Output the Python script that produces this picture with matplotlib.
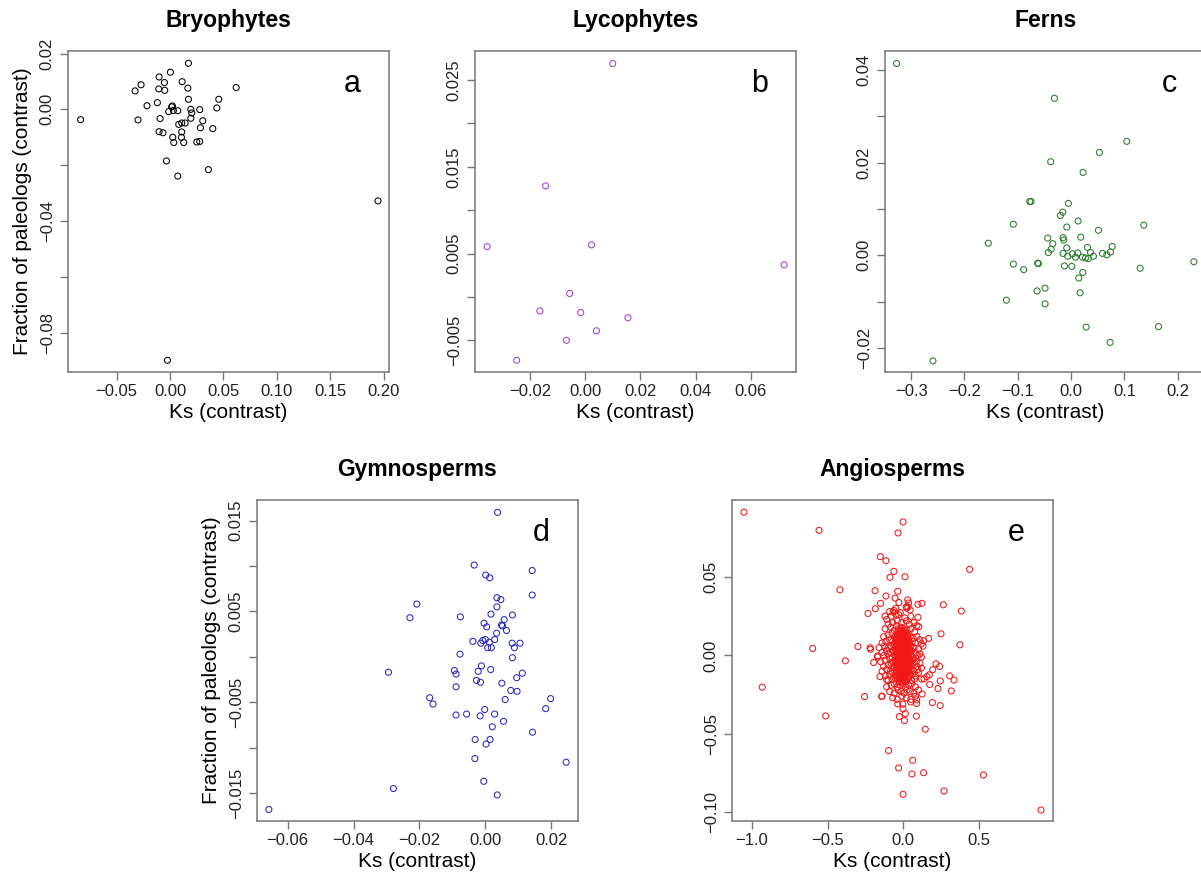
import matplotlib
matplotlib.use("Agg")
import matplotlib.pyplot as plt
import numpy as np

plt.rcParams['font.family'] = ['Liberation Sans', 'DejaVu Sans']

# ---- data (Ks contrast, paleolog-fraction contrast)
bryo = [(-0.0838, -0.0037), (0.0172, 0.0165), (0.0003, 0.0133), (-0.0103, 0.0116),
        (-0.0053, 0.0096), (0.0113, 0.0099), (-0.0272, 0.0088), (-0.0328, 0.0066),
        (-0.0106, 0.0073), (-0.0050, 0.0068), (0.0166, 0.0076), (0.0619, 0.0078),
        (0.0456, 0.0036), (0.0172, 0.0036), (-0.0119, 0.0024), (-0.0216, 0.0013),
        (0.0022, 0.0012), (0.0015, 0.0009), (0.0031, -0.0004), (-0.0013, -0.0008),
        (0.0072, -0.0005), (0.0194, 0.0000), (0.0278, -0.0001), (0.0438, 0.0005),
        (0.0203, -0.0013), (-0.0300, -0.0038), (-0.0094, -0.0033), (0.0194, -0.0032),
        (0.0306, -0.0041), (0.0081, -0.0054), (0.0109, -0.0049), (0.0141, -0.0049),
        (0.0284, -0.0066), (0.0400, -0.0069), (-0.0103, -0.0080), (-0.0066, -0.0084),
        (0.0109, -0.0081), (0.0025, -0.0100), (0.0106, -0.0100), (0.0034, -0.0119),
        (0.0128, -0.0119), (0.0250, -0.0117), (0.0278, -0.0115), (-0.0034, -0.0185),
        (0.0359, -0.0216), (0.0072, -0.0239), (0.1947, -0.0328), (-0.0025, -0.0899)]

lyco = [(0.0100, 0.0269), (-0.0143, 0.0128), (-0.0355, 0.0058), (0.0023, 0.0060),
        (0.0721, 0.0037), (-0.0056, 0.0004), (-0.0164, -0.0016), (-0.0016, -0.0018),
        (0.0155, -0.0024), (0.0041, -0.0039), (-0.0068, -0.0050), (-0.0248, -0.0073)]

fern = [(-0.3273, 0.0414), (-0.0313, 0.0339), (0.1045, 0.0246), (0.0532, 0.0222),
        (-0.0382, 0.0202), (0.0225, 0.0179), (-0.0776, 0.0116), (-0.0751, 0.0116),
        (-0.0050, 0.0112), (-0.0156, 0.0093), (-0.0200, 0.0086), (0.0131, 0.0074),
        (-0.1083, 0.0067), (0.1364, 0.0065), (-0.0081, 0.0061), (0.0513, 0.0054),
        (-0.1552, 0.0026), (-0.0438, 0.0037), (-0.0150, 0.0038), (-0.0138, 0.0033),
        (-0.0344, 0.0025), (0.0181, 0.0039), (-0.0081, 0.0016), (0.0307, 0.0017),
        (0.0770, 0.0019), (-0.0375, 0.0013), (-0.0426, 0.0006), (-0.0150, 0.0004),
        (-0.0063, -0.0002), (0.0025, 0.0003), (0.0125, 0.0005), (0.0081, -0.0004),
        (0.0213, -0.0004), (0.0269, -0.0006), (0.0325, -0.0007), (0.0363, 0.0006),
        (0.0419, -0.0002), (0.0588, 0.0004), (0.0670, 0.0001), (0.0738, 0.0007),
        (-0.1083, -0.0019), (-0.0889, -0.0031), (-0.0626, -0.0017), (-0.0613, -0.0018),
        (-0.0125, -0.0023), (0.0013, -0.0024), (0.1295, -0.0028), (0.2303, -0.0014),
        (0.0219, -0.0037), (0.0144, -0.0049), (-0.0488, -0.0071), (-0.0638, -0.0077),
        (0.0169, -0.0081), (-0.1214, -0.0097), (-0.0488, -0.0105), (0.0282, -0.0155),
        (0.1640, -0.0154), (0.0732, -0.0188), (-0.2591, -0.0228)]

gymno = [(0.0037, 0.0159), (-0.0034, 0.0101), (0.0142, 0.0095), (0.0001, 0.0090),
         (0.0013, 0.0087), (0.0142, 0.0068), (0.0035, 0.0065), (0.0047, 0.0063),
         (-0.0208, 0.0058), (0.0035, 0.0055), (-0.0229, 0.0043), (-0.0076, 0.0044),
         (0.0017, 0.0047), (0.0082, 0.0046), (0.0057, 0.0041), (-0.0004, 0.0037),
         (0.0004, 0.0033), (0.0049, 0.0035), (0.0052, 0.0034), (0.0064, 0.0029),
         (0.0034, 0.0026), (0.0028, 0.0019), (0.0000, 0.0019), (-0.0038, 0.0017),
         (-0.0008, 0.0018), (-0.0014, 0.0015), (0.0012, 0.0016), (0.0081, 0.0015),
         (0.0105, 0.0015), (0.0007, 0.0010), (0.0018, 0.0010), (0.0088, 0.0010),
         (-0.0077, 0.0003), (0.0082, -0.0001), (-0.0012, -0.0010), (0.0016, -0.0014),
         (-0.0294, -0.0017), (-0.0094, -0.0015), (-0.0089, -0.0019), (-0.0022, -0.0016),
         (0.0112, -0.0018), (0.0095, -0.0023), (-0.0027, -0.0026), (-0.0015, -0.0028),
         (0.0050, -0.0029), (-0.0089, -0.0033), (0.0077, -0.0037), (0.0096, -0.0038),
         (-0.0169, -0.0045), (-0.0159, -0.0052), (0.0060, -0.0047), (0.0198, -0.0046),
         (-0.0002, -0.0058), (0.0183, -0.0057), (-0.0089, -0.0064), (-0.0057, -0.0063),
         (-0.0016, -0.0065), (0.0028, -0.0063), (0.0055, -0.0071), (0.0021, -0.0077),
         (0.0143, -0.0083), (-0.0031, -0.0091), (0.0014, -0.0091), (0.0002, -0.0096),
         (-0.0032, -0.0112), (0.0245, -0.0116), (-0.0005, -0.0137), (-0.0279, -0.0145),
         (0.0036, -0.0152), (-0.0657, -0.0168)]

# angiosperms: scattered points
angio_out = [(-1.053, 0.0913), (-0.557, 0.0798), (-0.002, 0.0851), (-0.035, 0.0781),
             (-0.152, 0.0630), (-0.115, 0.0604), (-0.062, 0.0536), (-0.088, 0.0498),
             (0.011, 0.0502), (0.438, 0.0549), (-0.419, 0.0419), (-0.187, 0.0413),
             (-0.037, 0.0409), (-0.115, 0.0379), (-0.055, 0.0366), (-0.029, 0.0338),
             (-0.150, 0.0332), (0.029, 0.0355), (0.035, 0.0334), (0.097, 0.0326),
             (0.123, 0.0332), (0.264, 0.0323), (0.383, 0.0283), (-0.185, 0.0298),
             (-0.233, 0.0268), (-0.121, 0.0251), (-0.062, 0.0287), (-0.048, 0.0260),
             (0.097, 0.0243), (0.249, 0.0138), (0.374, 0.0068), (0.167, 0.0109),
             (-0.068, 0.0277), (-0.020, 0.0274), (0.022, 0.0302), (0.031, 0.0309),
             (0.102, 0.0183), (0.135, 0.0094), (0.119, 0.0075),
             (-0.599, 0.0045), (-0.300, 0.0057), (-0.220, 0.0049), (-0.216, 0.0040),
             (-0.383, -0.0034), (-0.196, -0.0045), (-0.170, -0.0002), (-0.932, -0.0202),
             (-0.513, -0.0385), (-0.256, -0.0262), (-0.143, -0.0262), (-0.154, -0.0134),
             (-0.110, -0.0155), (-0.141, -0.0259),
             (0.216, -0.0053), (0.240, -0.0070), (0.194, -0.0091), (0.172, -0.0123),
             (0.155, -0.0134), (0.137, -0.0149), (0.306, -0.0130), (0.335, -0.0157),
             (0.244, -0.0162), (0.174, -0.0185), (0.229, -0.0211), (0.317, -0.0226),
             (0.124, -0.0246), (0.192, -0.0300), (0.244, -0.0319), (0.048, -0.0296),
             (0.088, -0.0306), (0.088, -0.0283), (-0.037, -0.0309), (-0.004, -0.0310),
             (-0.002, -0.0340), (-0.026, -0.0389), (0.013, -0.0370), (0.086, -0.0387),
             (0.007, -0.0415), (0.145, -0.0470), (-0.097, -0.0606), (0.062, -0.0668),
             (-0.031, -0.0717), (0.057, -0.0755), (0.134, -0.0747), (0.529, -0.0762),
             (0.269, -0.0864), (-0.002, -0.0885), (0.910, -0.0985)]

# angiosperms: the crowded cloud around the origin (estimated)
angio_core = [
    (-0.05, 0.030), (0.02, 0.031), (0.045, 0.029), (-0.09, 0.028),
    (-0.08, 0.025), (-0.03, 0.026), (0.01, 0.024), (0.05, 0.025), (-0.11, 0.023),
    (-0.10, 0.020), (-0.07, 0.021), (-0.04, 0.022), (-0.01, 0.021), (0.02, 0.022),
    (0.04, 0.020), (0.07, 0.021), (0.09, 0.019),
    (-0.12, 0.017), (-0.085, 0.018), (-0.06, 0.016), (-0.035, 0.017), (-0.015, 0.018),
    (0.005, 0.017), (0.025, 0.016), (0.05, 0.017), (0.075, 0.015), (-0.045, 0.019),
    (-0.13, 0.012), (-0.10, 0.013), (-0.075, 0.014), (-0.055, 0.012), (-0.04, 0.013),
    (-0.025, 0.014), (-0.01, 0.013), (0.0, 0.014), (0.015, 0.012), (0.03, 0.013),
    (0.045, 0.012), (0.065, 0.011), (0.09, 0.012),
    (-0.14, 0.008), (-0.115, 0.009), (-0.09, 0.010), (-0.07, 0.009), (-0.05, 0.010),
    (-0.035, 0.009), (-0.02, 0.010), (-0.005, 0.009), (0.01, 0.010), (0.025, 0.009),
    (0.04, 0.008), (0.06, 0.009), (0.08, 0.008), (0.11, 0.010),
    (-0.16, 0.005), (-0.125, 0.006), (-0.10, 0.005), (-0.08, 0.006), (-0.06, 0.007),
    (-0.045, 0.006), (-0.03, 0.007), (-0.015, 0.006), (0.0, 0.007), (0.015, 0.006),
    (0.03, 0.005), (0.05, 0.006), (0.07, 0.005), (0.10, 0.004), (0.13, 0.006),
    (-0.14, 0.002), (-0.11, 0.003), (-0.085, 0.002), (-0.065, 0.003), (-0.05, 0.004),
    (-0.035, 0.003), (-0.02, 0.004), (-0.005, 0.003), (0.01, 0.004), (0.02, 0.003),
    (0.035, 0.002), (0.055, 0.003), (0.08, 0.002), (0.11, 0.001),
    (-0.17, -0.001), (-0.13, 0.0), (-0.10, 0.001), (-0.075, -0.001), (-0.055, 0.0),
    (-0.04, 0.001), (-0.025, 0.0), (-0.01, 0.001), (0.005, 0.0), (0.02, -0.001),
    (0.035, 0.001), (0.05, 0.0), (0.07, -0.002), (0.095, 0.0), (0.12, -0.001),
    (-0.15, -0.004), (-0.12, -0.003), (-0.09, -0.002), (-0.07, -0.004), (-0.05, -0.003),
    (-0.035, -0.002), (-0.02, -0.003), (-0.005, -0.004), (0.01, -0.003), (0.025, -0.002),
    (0.04, -0.004), (0.06, -0.003), (0.085, -0.004), (0.11, -0.005),
    (-0.13, -0.007), (-0.10, -0.006), (-0.08, -0.005), (-0.06, -0.007), (-0.045, -0.006),
    (-0.03, -0.005), (-0.015, -0.007), (0.0, -0.006), (0.015, -0.005), (0.03, -0.007),
    (0.045, -0.006), (0.065, -0.005), (0.09, -0.007), (0.12, -0.008),
    (-0.14, -0.010), (-0.11, -0.009), (-0.085, -0.010), (-0.065, -0.008), (-0.045, -0.010),
    (-0.03, -0.009), (-0.015, -0.010), (0.0, -0.009), (0.015, -0.010), (0.03, -0.008),
    (0.05, -0.009), (0.07, -0.010), (0.095, -0.009),
    (-0.12, -0.013), (-0.09, -0.012), (-0.07, -0.011), (-0.05, -0.013), (-0.035, -0.012),
    (-0.02, -0.011), (-0.005, -0.013), (0.01, -0.012), (0.025, -0.011), (0.04, -0.013),
    (0.06, -0.012), (0.08, -0.013), (0.10, -0.011),
    (-0.10, -0.016), (-0.075, -0.015), (-0.055, -0.014), (-0.04, -0.016), (-0.025, -0.015),
    (-0.01, -0.014), (0.005, -0.016), (0.02, -0.015), (0.035, -0.014), (0.055, -0.016),
    (0.075, -0.015), (0.12, -0.015),
    (-0.11, -0.020), (-0.08, -0.019), (-0.06, -0.018), (-0.04, -0.020), (-0.02, -0.019),
    (0.0, -0.018), (0.015, -0.020), (0.035, -0.019), (0.055, -0.018), (0.08, -0.020),
    (-0.09, -0.023), (-0.06, -0.024), (-0.035, -0.022), (-0.015, -0.023), (0.005, -0.024),
    (0.025, -0.022), (0.045, -0.023), (0.07, -0.024), (0.10, -0.022),
    (-0.07, -0.027), (-0.04, -0.028), (-0.01, -0.026), (0.02, -0.027), (0.05, -0.028),
    (0.08, -0.026),
    # saturated centre
    (-0.03, 0.016), (-0.01, 0.016), (0.01, 0.016),
    (-0.04, 0.0145), (-0.02, 0.0145), (0.0, 0.0145), (0.02, 0.0145),
    (-0.035, 0.013), (-0.015, 0.013), (0.005, 0.013), (0.025, 0.013),
    (-0.045, 0.0115), (-0.025, 0.0115), (-0.005, 0.0115), (0.015, 0.0115), (0.03, 0.0115),
    (-0.04, 0.010), (-0.02, 0.010), (0.0, 0.010), (0.02, 0.010), (0.035, 0.010),
    (-0.05, 0.0085), (-0.03, 0.0085), (-0.01, 0.0085), (0.01, 0.0085), (0.03, 0.0085),
    (-0.045, 0.007), (-0.025, 0.007), (-0.005, 0.007), (0.015, 0.007), (0.035, 0.007),
    (-0.05, 0.0055), (-0.03, 0.0055), (-0.01, 0.0055), (0.01, 0.0055), (0.03, 0.0055),
    (0.045, 0.0055),
    (-0.04, 0.004), (-0.02, 0.004), (0.0, 0.004), (0.02, 0.004), (0.04, 0.004),
    (-0.055, 0.0025), (-0.035, 0.0025), (-0.015, 0.0025), (0.005, 0.0025), (0.025, 0.0025),
    (0.045, 0.0025),
    (-0.045, 0.001), (-0.025, 0.001), (-0.005, 0.001), (0.015, 0.001), (0.035, 0.001),
    (-0.05, -0.0005), (-0.03, -0.0005), (-0.01, -0.0005), (0.01, -0.0005), (0.03, -0.0005),
    (0.05, -0.0005),
    (-0.04, -0.002), (-0.02, -0.002), (0.0, -0.002), (0.02, -0.002), (0.04, -0.002),
    (-0.055, -0.0035), (-0.035, -0.0035), (-0.015, -0.0035), (0.005, -0.0035),
    (0.025, -0.0035), (0.045, -0.0035),
    (-0.045, -0.005), (-0.025, -0.005), (-0.005, -0.005), (0.015, -0.005), (0.035, -0.005),
    (-0.05, -0.0065), (-0.03, -0.0065), (-0.01, -0.0065), (0.01, -0.0065), (0.03, -0.0065),
    (0.045, -0.0065),
    (-0.04, -0.008), (-0.02, -0.008), (0.0, -0.008), (0.02, -0.008), (0.04, -0.008),
    (-0.045, -0.0095), (-0.025, -0.0095), (-0.005, -0.0095), (0.015, -0.0095), (0.035, -0.0095),
    (-0.035, -0.011), (-0.015, -0.011), (0.005, -0.011), (0.025, -0.011), (0.04, -0.011),
    (-0.04, -0.0125), (-0.02, -0.0125), (0.0, -0.0125), (0.02, -0.0125),
    (-0.03, -0.014), (-0.01, -0.014), (0.01, -0.014), (0.03, -0.014),
    (-0.02, -0.0155), (0.0, -0.0155), (0.02, -0.0155),
    (-0.025, -0.017), (-0.005, -0.017), (0.015, -0.017)]

# ticks and their labels (R drops some labels)
a_xt = [-0.05, 0.0, 0.05, 0.10, 0.15, 0.20]
a_xl = ['\u22120.05', '0.00', '0.05', '0.10', '0.15', '0.20']
a_yt = [-0.08, -0.06, -0.04, -0.02, 0.0, 0.02]
a_yl = ['\u22120.08', '', '\u22120.04', '', '0.00', '0.02']

b_xt = [-0.02, 0.0, 0.02, 0.04, 0.06]
b_xl = ['\u22120.02', '0.00', '0.02', '0.04', '0.06']
b_yt = [-0.005, 0.0, 0.005, 0.010, 0.015, 0.020, 0.025]
b_yl = ['\u22120.005', '', '0.005', '', '0.015', '', '0.025']

c_xt = [-0.3, -0.2, -0.1, 0.0, 0.1, 0.2]
c_xl = ['\u22120.3', '\u22120.2', '\u22120.1', '0.0', '0.1', '0.2']
c_yt = [-0.02, -0.01, 0.0, 0.01, 0.02, 0.03, 0.04]
c_yl = ['\u22120.02', '', '0.00', '', '0.02', '', '0.04']

d_xt = [-0.06, -0.04, -0.02, 0.0, 0.02]
d_xl = ['\u22120.06', '\u22120.04', '\u22120.02', '0.00', '0.02']
d_yt = [-0.015, -0.010, -0.005, 0.0, 0.005, 0.010, 0.015]
d_yl = ['\u22120.015', '', '\u22120.005', '', '0.005', '', '0.015']

e_xt = [-1.0, -0.5, 0.0, 0.5]
e_xl = ['\u22121.0', '\u22120.5', '0.0', '0.5']
e_yt = [-0.10, -0.05, 0.0, 0.05]
e_yl = ['\u22120.10', '\u22120.05', '0.00', '0.05']

W, H = 1201, 876
fig = plt.figure(figsize=(W / 100, H / 100), dpi=100)


def panel(px, py, pts, col, xlim, ylim, xt, xl, yt, yl, title, letter, ylab):
    ax = fig.add_axes([px / W, 1 - (py + 321) / H, 321 / W, 321 / H])
    xy = np.array(pts)
    ax.scatter(xy[:, 0], xy[:, 1], s=19, facecolors='none', edgecolors=col,
               linewidths=0.75, clip_on=False)
    ax.set_xlim(xlim)
    ax.set_ylim(ylim)
    ax.set_xticks(xt)
    ax.set_xticklabels(xl)
    ax.set_yticks(yt)
    ax.set_yticklabels(yl, rotation=90, va='center')
    for s in ax.spines.values():
        s.set_color('#777777')
        s.set_linewidth(1.1)
    ax.tick_params(direction='out', length=6, width=1.0, color='#777777',
                   labelsize=12, labelcolor='#222222')
    ax.tick_params(axis='x', pad=2.5)
    ax.tick_params(axis='y', pad=3.5)
    ax.text(0.5, 1.095, title, transform=ax.transAxes, ha='center', va='center',
            fontsize=16.5, fontweight='bold')
    ax.text(0.5, -0.127, 'Ks (contrast)', transform=ax.transAxes, ha='center',
            va='center', fontsize=15)
    if ylab:
        ax.text(-0.143, 0.5, 'Fraction of paleologs (contrast)', transform=ax.transAxes,
                ha='center', va='center', rotation=90, fontsize=15)
    ax.text(0.885, 0.897, letter, transform=ax.transAxes, ha='center', va='center',
            fontsize=22)
    return ax


panel(68, 51, bryo, 'black', (-0.0956, 0.205), (-0.0941, 0.0209),
      a_xt, a_xl, a_yt, a_yl, 'Bryophytes', 'a', True)
panel(475, 51, lyco, '#a040d0', (-0.0399, 0.0764), (-0.00865, 0.02835),
      b_xt, b_xl, b_yt, b_yl, 'Lycophytes', 'b', False)
panel(885, 51, fern, '#2a7a2a', (-0.349, 0.253), (-0.0252, 0.0441),
      c_xt, c_xl, c_yt, c_yl, 'Ferns', 'c', False)
panel(257, 500, gymno, '#2828c0', (-0.0693, 0.0281), (-0.01807, 0.01726),
      d_xt, d_xl, d_yt, d_yl, 'Gymnosperms', 'd', True)
panel(732, 500, angio_out + angio_core, '#f01818', (-1.132, 0.989), (-0.1055, 0.0991),
      e_xt, e_xl, e_yt, e_yl, 'Angiosperms', 'e', False)

fig.savefig('out.png', dpi=100)
